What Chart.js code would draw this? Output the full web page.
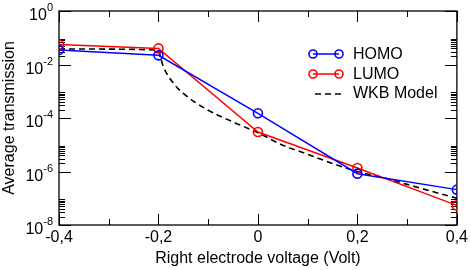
<!DOCTYPE html>
<html>
<head>
<meta charset="utf-8">
<script src="https://cdn.jsdelivr.net/npm/chart.js@4/dist/chart.umd.min.js"></script>
<style>
    html, body { margin: 0; padding: 0; background: #fff; }
    #wrap { position: relative; width: 471px; height: 270px; font-family: "Liberation Sans", Arial, sans-serif; }
    #myChart { position: absolute; left: 0; top: 0; }
    .legendRow { position: absolute; left: 306px; height: 20px; display: flex; align-items: center; font-size: 16px; color: #000; white-space: nowrap; }
    .legendRow svg { width: 42px; height: 14px; margin-right: 5px; }
</style>
</head>
<body>
<div id="wrap">
    <canvas id="myChart" width="471" height="270"></canvas>
    <div id="legend"></div>
</div>
<script>
// data
const voltages = [-0.4, -0.2, 0, 0.2, 0.4];
const homo = [0.035, 0.022, 1.5e-4, 8.3e-7, 2.1e-7];
const lumo = [0.056, 0.04, 3.0e-5, 1.35e-6, 5.4e-8];

const wkbVoltages = [-0.4, -0.2, -0.195, -0.19, -0.17, -0.15, -0.1, -0.05, 0, 0.05, 0.1, 0.15, 0.2, 0.25, 0.3, 0.35, 0.4];
const wkb = [0.038, 0.035, 0.016, 8.2e-3, 2.0e-3, 8.3e-4, 1.95e-4, 7.1e-5, 2.8e-5, 9.6e-6, 4.4e-6, 2.0e-6, 1.0e-6, 6e-7, 3.3e-7, 1.8e-7, 1e-7];

const seriesNames = ['HOMO', 'LUMO', 'WKB Model'];
const seriesColors = ['#0000ff', '#ff0000', '#000000'];

const xTicks = [-0.4, -0.2, 0, 0.2, 0.4];
const xTickLabels = ['-0,4', '-0,2', '0', '0,2', '0,4'];
const xMinorTicks = [-0.3, -0.1, 0.1, 0.3];
const yTickExps = [0, -2, -4, -6, -8];

const FONT = '"Liberation Sans", Arial, sans-serif';

function toPoints(xs, ys) {
    return xs.map((x, i) => ({x: x, y: ys[i]}));
}

// legend (html)
const legend = document.getElementById('legend');
seriesNames.forEach((name, i) => {
    const row = document.createElement('div');
    row.className = 'legendRow';
    row.style.top = (44 + i * 19.5) + 'px';
    let svg;
    if (i < 2) {
        svg = `<svg viewBox="0 0 42 14"><line x1="7" y1="7" x2="33" y2="7" stroke="${seriesColors[i]}" stroke-width="1.5"/>` +
            `<circle cx="7" cy="7" r="4" fill="none" stroke="${seriesColors[i]}" stroke-width="1.6"/>` +
            `<circle cx="33" cy="7" r="4" fill="none" stroke="${seriesColors[i]}" stroke-width="1.6"/></svg>`;
    } else {
        svg = `<svg viewBox="0 0 42 14"><line x1="9" y1="8" x2="35" y2="8" stroke="#000" stroke-width="1.5" stroke-dasharray="6,4"/></svg>`;
    }
    row.innerHTML = svg + '<span>' + name + '</span>';
    legend.appendChild(row);
});

// box, inward ticks on all sides, y labels with exponents
const frame = {
    id: 'frame',
    beforeDatasetsDraw(chart) {
        const c = chart.ctx;
        const a = chart.chartArea;
        const xs = chart.scales.x;
        const ys = chart.scales.y;
        c.save();
        c.strokeStyle = '#000';
        c.lineWidth = 1;
        c.beginPath();
        function hTick(y, len) {
            c.moveTo(a.left, y); c.lineTo(a.left + len, y);
            c.moveTo(a.right, y); c.lineTo(a.right - len, y);
        }
        function vTick(x, len) {
            c.moveTo(x, a.bottom); c.lineTo(x, a.bottom - len);
            c.moveTo(x, a.top); c.lineTo(x, a.top + len);
        }
        yTickExps.forEach(e => {
            hTick(Math.round(ys.getPixelForValue(Math.pow(10, e))) + 0.5, 12);
            if (e < 0) {
                for (let k = 2; k <= 9; k++) {
                    hTick(Math.round(ys.getPixelForValue(k * Math.pow(10, e))) + 0.5, 6);
                }
            }
        });
        xTicks.forEach(v => vTick(Math.round(xs.getPixelForValue(v)) + 0.5, 11));
        xMinorTicks.forEach(v => vTick(Math.round(xs.getPixelForValue(v)) + 0.5, 6));
        c.stroke();
        c.lineWidth = 1.3;
        c.strokeRect(a.left, a.top, a.right - a.left, a.bottom - a.top);
        c.restore();
    },
    afterDraw(chart) {
        const c = chart.ctx;
        const ys = chart.scales.y;
        c.save();
        c.fillStyle = '#000';
        c.textBaseline = 'middle';
        c.textAlign = 'left';
        yTickExps.forEach(e => {
            const y = ys.getPixelForValue(Math.pow(10, e));
            const sup = String(e);
            c.font = '11px ' + FONT;
            const ws = c.measureText(sup).width;
            c.font = '16px ' + FONT;
            const wb = c.measureText('10').width;
            const supX = 53 - ws;
            c.fillText('10', supX - wb, y + 5);
            c.font = '11px ' + FONT;
            c.fillText(sup, supX, y - 3);
        });
        c.restore();
    }
};

const ctx = document.getElementById('myChart').getContext('2d');
const chart = new Chart(ctx, {
    type: 'scatter',
    data: {
        datasets: [{
            label: seriesNames[0],
            data: toPoints(voltages, homo),
            showLine: true,
            borderColor: seriesColors[0],
            borderWidth: 1.5,
            pointRadius: 4.5,
            pointBorderWidth: 1.6,
            pointBorderColor: seriesColors[0],
            pointBackgroundColor: 'rgba(0,0,0,0)'
        }, {
            label: seriesNames[1],
            data: toPoints(voltages, lumo),
            showLine: true,
            borderColor: seriesColors[1],
            borderWidth: 1.5,
            pointRadius: 4.5,
            pointBorderWidth: 1.6,
            pointBorderColor: seriesColors[1],
            pointBackgroundColor: 'rgba(0,0,0,0)'
        }, {
            label: seriesNames[2],
            data: toPoints(wkbVoltages, wkb),
            showLine: true,
            borderColor: seriesColors[2],
            borderWidth: 1.6,
            borderDash: [6, 4],
            pointRadius: 0,
            cubicInterpolationMode: 'monotone'
        }]
    },
    options: {
        responsive: false,
        animation: false,
        devicePixelRatio: 1,
        layout: {padding: {left: 0, right: 14, top: 11, bottom: 0}},
        plugins: {legend: {display: false}, tooltip: {enabled: false}},
        scales: {
            x: {
                type: 'linear',
                min: -0.4,
                max: 0.4,
                afterBuildTicks: s => { s.ticks = xTicks.map(v => ({value: v})); },
                grid: {display: false, drawTicks: false},
                border: {display: false},
                ticks: {
                    font: {size: 16, family: FONT},
                    color: '#000',
                    padding: 3,
                    maxRotation: 0,
                    autoSkip: false,
                    callback: (v, i) => xTickLabels[i]
                },
                title: {
                    display: true,
                    text: 'Right electrode voltage (Volt)',
                    font: {size: 16, family: FONT},
                    color: '#000',
                    padding: {top: 0, bottom: 2}
                },
                afterFit: s => { s.height = 45; }
            },
            y: {
                type: 'logarithmic',
                min: 1e-8,
                max: 1,
                grid: {display: false, drawTicks: false},
                border: {display: false},
                ticks: {display: false},
                title: {
                    display: true,
                    text: 'Average transmission',
                    font: {size: 16, family: FONT},
                    color: '#000',
                    padding: {top: 0, bottom: 0}
                },
                afterFit: s => { s.width = 59; }
            }
        }
    },
    plugins: [frame]
});
</script>
</body>
</html>
